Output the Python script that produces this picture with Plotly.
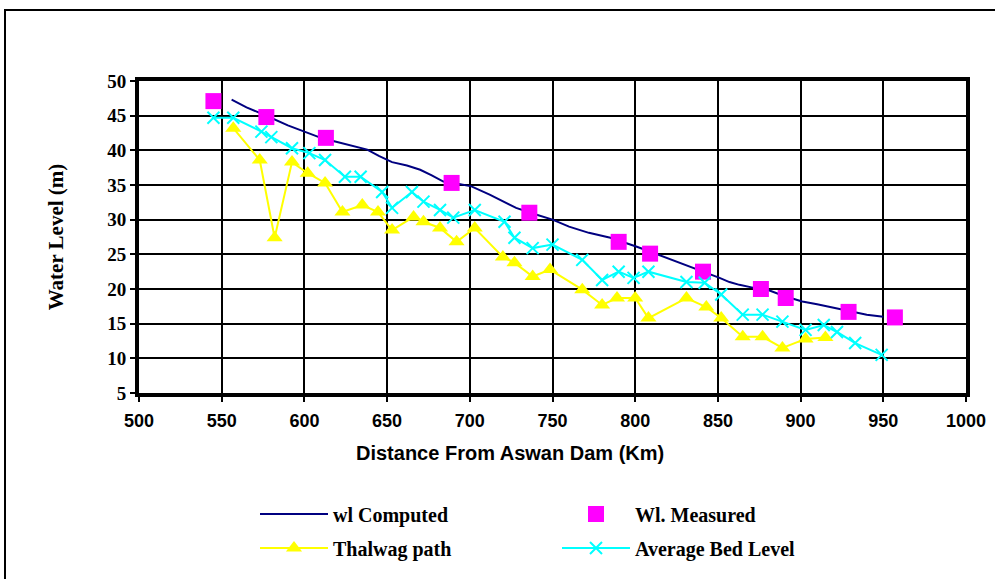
import plotly.graph_objects as go

# wl Computed (navy line)
comp_x = [556, 565, 575, 582, 590, 600, 610, 618, 628, 638, 645, 653, 662, 670, 677, 684, 692, 701, 712, 720,
          728, 738, 750, 760, 772, 785, 793, 801, 810, 819, 827, 835, 843, 851, 857, 863, 871, 880, 890, 901,
          910, 918, 925, 932, 940, 950]
comp_y = [47.3, 46.2, 45.2, 44.4, 43.6, 42.7, 41.8, 41.3, 40.7, 40.1, 39.2, 38.3, 37.8, 37.2, 36.4, 35.5, 35.2, 34.8, 33.6, 32.7,
          31.7, 30.9, 30.0, 29.0, 28.1, 27.4, 26.8, 26.1, 25.3, 24.5, 23.8, 23.1, 22.3, 21.6, 21.0, 20.6, 20.2, 19.9, 19.0, 18.2,
          17.8, 17.4, 17.0, 16.6, 16.3, 16.0]

# Wl. Measured (magenta squares)
meas_x = [545, 577, 613, 689, 736, 790, 809, 841, 876, 891, 929, 957]
meas_y = [47.1, 44.8, 41.8, 35.3, 31.0, 26.8, 25.1, 22.5, 20.0, 18.7, 16.7, 15.9]

# Thalwag path (yellow triangles)
thal_x = [557, 573, 582, 592.5, 602, 612.5, 623, 635, 644.5, 653, 666, 672, 682, 692, 703, 720, 727, 738, 748.5,
          768, 780, 789, 800, 808, 831, 843, 852, 865, 877, 889, 903, 915]
thal_y = [43.2, 38.6, 27.4, 38.3, 36.7, 35.3, 31.1, 32.1, 31.1, 28.5, 30.4, 29.7, 28.8, 26.8, 28.8, 24.6, 23.8, 21.8, 22.8,
          19.9, 17.7, 18.7, 18.7, 15.8, 18.7, 17.4, 15.8, 13.1, 13.1, 11.5, 12.8, 13.0]

# Average Bed Level (cyan x)
bed_x = [545, 557, 574, 580, 592.5, 603, 612.5, 624.5, 634, 647, 653, 665, 672, 682, 690, 703, 721, 727, 738, 750,
         768, 780, 790, 799, 808, 831, 842, 852, 865, 877, 889, 903, 914, 922, 933, 949]
bed_y = [44.7, 44.7, 42.7, 41.9, 40.3, 39.6, 38.6, 36.2, 36.2, 34.0, 31.7, 34.0, 32.6, 31.4, 30.3, 31.4, 29.7, 27.4, 25.9, 26.4,
         24.2, 21.3, 22.5, 21.6, 22.5, 21.0, 20.9, 19.2, 16.3, 16.3, 15.3, 14.1, 14.8, 13.8, 12.2, 10.5]

x_ticks = [500, 550, 600, 650, 700, 750, 800, 850, 900, 950, 1000]
y_ticks = [5, 10, 15, 20, 25, 30, 35, 40, 45, 50]

x_title = "Distance From Aswan Dam (Km)"
y_title = "Water Level (m)"

serif = "Liberation Serif"
sans = "Liberation Sans"

fig = go.Figure()
fig.add_trace(go.Scatter(x=comp_x, y=comp_y, mode="lines", name="wl Computed",
                         line=dict(color="#000080", width=2), legend="legend"))
fig.add_trace(go.Scatter(x=meas_x, y=meas_y, mode="markers", name="Wl. Measured",
                         marker=dict(symbol="square", color="#FF00FF", size=16), legend="legend"))
fig.add_trace(go.Scatter(x=thal_x, y=thal_y, mode="lines+markers", name="Thalwag path",
                         line=dict(color="#FFFF00", width=2),
                         marker=dict(symbol="triangle-up", color="#FFFF00", size=14), legend="legend2"))
fig.add_trace(go.Scatter(x=bed_x, y=bed_y, mode="lines+markers", name="Average Bed Level",
                         line=dict(color="#00FFFF", width=2),
                         marker=dict(symbol="x-thin", color="#00FFFF", size=12,
                                     line=dict(color="#00FFFF", width=2)), legend="legend2"))

L, R, T, B = 139, 29, 81, 186
W = 995 - L - R
H = 579 - T - B

def px(p):
    return (p - L) / W

def py(p):
    return (579 - B - p) / H

legend_common = dict(orientation="h", xanchor="left", yanchor="middle",
                     font=dict(family=serif, size=20, color="black", weight="bold"),
                     bgcolor="rgba(0,0,0,0)", itemwidth=68,
                     entrywidth=219, entrywidthmode="pixels")

fig.update_layout(
    width=995, height=579,
    margin=dict(l=L, r=R, t=T, b=B, autoexpand=False),
    paper_bgcolor="white", plot_bgcolor="white",
    showlegend=True,
    legend=dict(x=px(255), y=py(514), **legend_common),
    legend2=dict(x=px(255), y=py(548), **legend_common),
    xaxis=dict(range=[500, 1000], tickvals=x_ticks, ticktext=[str(v) for v in x_ticks],
               automargin=False,
               showgrid=True, gridcolor="black", gridwidth=1.5,
               showline=True, linecolor="black", linewidth=4, mirror=True,
               ticks="outside", ticklen=5, tickcolor="black", tickwidth=1.5,
               ticklabelstandoff=3,
               tickfont=dict(family=sans, size=18, color="black", weight="bold"),
               zeroline=False),
    yaxis=dict(range=[5, 50], tickvals=y_ticks, ticktext=[str(v) for v in y_ticks],
               automargin=False,
               showgrid=True, gridcolor="black", gridwidth=1.5,
               showline=True, linecolor="black", linewidth=4, mirror=True,
               ticks="outside", ticklen=5, tickcolor="black", tickwidth=1.5,
               tickfont=dict(family=serif, size=19, color="black", weight="bold"),
               title=dict(text=y_title, standoff=39,
                          font=dict(family=serif, size=21, color="black", weight="bold")),
               zeroline=False),
    annotations=[dict(text=x_title, xref="paper", yref="paper", x=px(510), y=py(453),
                      xanchor="center", yanchor="middle", showarrow=False,
                      font=dict(family=sans, size=20, color="black", weight="bold"))],
    shapes=[dict(type="rect", xref="paper", yref="paper",
                 x0=px(5), x1=px(1005), y0=py(600), y1=py(10),
                 line=dict(color="black", width=2), layer="below")],
)

fig.write_html("out.html")
